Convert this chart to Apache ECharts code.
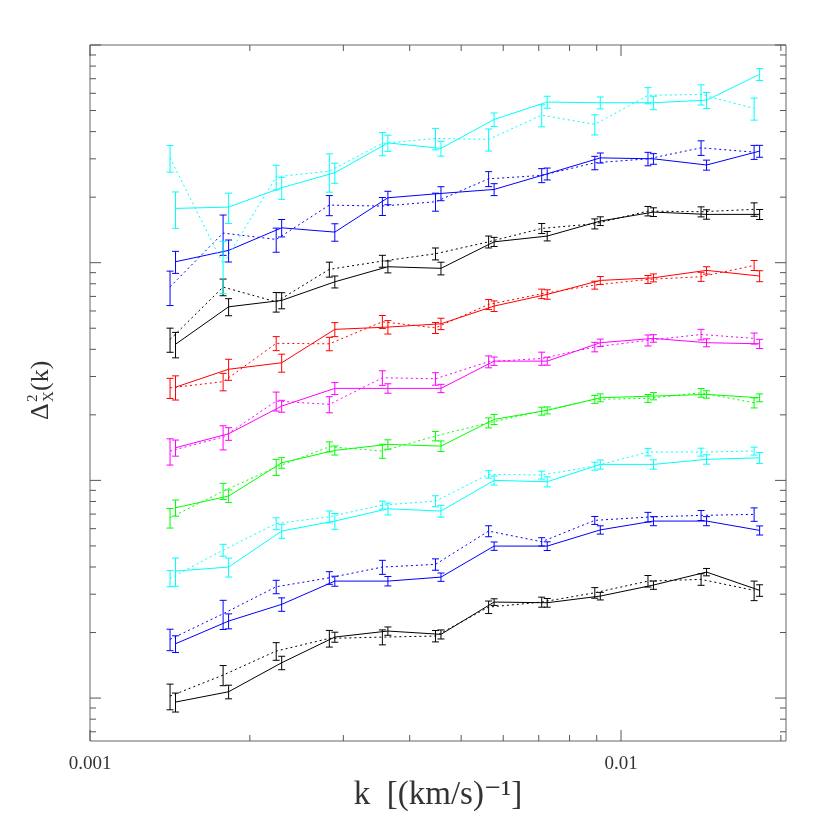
<!DOCTYPE html>
<html>
<head>
<meta charset="utf-8">
<script src="https://cdn.jsdelivr.net/npm/echarts@6/dist/echarts.min.js"></script>
<style>html,body{margin:0;padding:0;background:#fff;}#c{width:830px;height:830px;}</style>
</head>
<body>
<div id="c"></div>
<script>
// k bins (solid sets and slightly shifted dotted sets)
const kSolid  = [0.001449, 0.001824, 0.002296, 0.002891, 0.003639, 0.004581, 0.005768, 0.007261, 0.009141, 0.01151, 0.01449, 0.01824];
const kDotted = [0.001415, 0.001781, 0.002242, 0.002823, 0.003553, 0.004473, 0.005632, 0.007090, 0.008925, 0.01124, 0.01415, 0.01781];

// values (bottom to top) and relative errors
const s1Solid = [0.9585, 1.069, 1.453, 1.906, 2.032, 1.962, 2.761, 2.741, 2.941, 3.304, 3.791, 3.124];
const s1SolidErr = [0.10, 0.072, 0.071, 0.053, 0.044, 0.048, 0.035, 0.046, 0.040, 0.044, 0.039, 0.061];
const s1Dotted = [1.021, 1.275, 1.644, 1.880, 1.906, 1.927, 2.618, 2.761, 3.046, 3.446, 3.510, 3.124];
const s1DottedErr = [0.135, 0.106, 0.093, 0.088, 0.079, 0.060, 0.066, 0.053, 0.056, 0.061, 0.061, 0.103];

const s2Solid = [1.776, 2.258, 2.694, 3.446, 3.446, 3.595, 4.991, 4.991, 5.924, 6.502, 6.502, 5.893];
const s2SolidErr = [0.088, 0.079, 0.071, 0.053, 0.050, 0.044, 0.044, 0.046, 0.044, 0.048, 0.048, 0.048];
const s2Dotted = [1.861, 2.439, 3.245, 3.569, 3.997, 4.113, 5.849, 5.224, 6.551, 6.783, 6.906, 6.980];
const s2DottedErr = [0.113, 0.153, 0.071, 0.067, 0.074, 0.060, 0.058, 0.044, 0.042, 0.051, 0.053, 0.071];

const s3Solid = [3.831, 3.997, 5.849, 6.502, 7.405, 7.228, 10.0, 9.854, 11.84, 11.84, 12.49, 12.70];
const s3SolidErr = [0.148, 0.10, 0.074, 0.083, 0.063, 0.063, 0.048, 0.053, 0.048, 0.050, 0.050, 0.058];
const s3Dotted = [3.547, 4.784, 6.334, 6.805, 7.700, 8.034, 10.66, 10.58, 11.63, 13.49, 13.49, 13.64];
const s3DottedErr = [0.085, 0.063, 0.063, 0.063, 0.042, 0.058, 0.039, 0.042, 0.042, 0.040, 0.042, 0.042];

const s4Solid = [7.483, 8.474, 12.04, 13.73, 14.63, 14.37, 19.06, 20.97, 23.96, 24.39, 24.83, 23.96];
const s4SolidErr = [0.085, 0.067, 0.056, 0.048, 0.050, 0.056, 0.053, 0.037, 0.042, 0.039, 0.039, 0.042];
const s4Dotted = [6.733, 8.929, 11.51, 14.27, 13.64, 15.98, 18.39, 20.81, 23.56, 23.81, 25.26, 22.72];
const s4DottedErr = [0.103, 0.085, 0.085, 0.053, 0.074, 0.050, 0.053, 0.042, 0.042, 0.042, 0.046, 0.053];

const s5Solid = [14.12, 16.37, 21.94, 26.46, 26.46, 26.46, 35.3, 35.3, 42.9, 44.9, 42.9, 42.4];
const s5SolidErr = [0.085, 0.067, 0.063, 0.063, 0.050, 0.044, 0.044, 0.042, 0.039, 0.040, 0.042, 0.048];
const s5Dotted = [13.64, 15.81, 23.13, 22.34, 29.6, 29.3, 35.1, 36.3, 41.0, 44.0, 46.8, 44.9];
const s5DottedErr = [0.138, 0.127, 0.10, 0.085, 0.077, 0.066, 0.063, 0.069, 0.050, 0.058, 0.056, 0.058];

const s6Solid = [26.8, 32.4, 34.7, 49.4, 50.6, 52.4, 63.2, 71.5, 82.9, 85.2, 92.2, 86.8];
const s6SolidErr = [0.127, 0.111, 0.095, 0.074, 0.071, 0.060, 0.056, 0.050, 0.042, 0.042, 0.039, 0.058];
const s6Dotted = [26.6, 28.4, 42.6, 42.4, 53.5, 50.2, 64.3, 72.0, 78.9, 83.8, 86.2, 97.2];
const s6DottedErr = [0.106, 0.092, 0.074, 0.071, 0.069, 0.058, 0.053, 0.050, 0.042, 0.042, 0.048, 0.053];

const s7Solid = [42.2, 62.7, 67.1, 81.7, 95.8, 94.2, 124.7, 132.5, 155.3, 170.8, 166.7, 166.7];
const s7SolidErr = [0.134, 0.090, 0.085, 0.063, 0.063, 0.067, 0.048, 0.050, 0.046, 0.046, 0.050, 0.053];
const s7Dotted = [44.4, 77.3, 66.1, 93.2, 101.7, 109.9, 124.7, 143.7, 150.9, 172.6, 171.4, 175.8];
const s7DottedErr = [0.127, 0.088, 0.103, 0.079, 0.063, 0.063, 0.063, 0.053, 0.053, 0.050, 0.053, 0.071];

const s8Solid = [101.0, 113.9, 144.6, 138.2, 198.7, 208.0, 217.0, 256.0, 303.0, 300.0, 281.0, 325.5];
const s8SolidErr = [0.116, 0.116, 0.092, 0.092, 0.071, 0.074, 0.063, 0.063, 0.053, 0.056, 0.053, 0.063];
const s8Dotted = [77.5, 136.8, 127.9, 183.9, 182.0, 190.5, 242.8, 251.8, 287.6, 300.0, 337.0, 322.0];
const s8DottedErr = [0.18, 0.21, 0.127, 0.106, 0.095, 0.095, 0.079, 0.074, 0.071, 0.071, 0.077, 0.074];

const s9Solid = [177.6, 180.0, 221.0, 259.0, 355.0, 335.0, 455.0, 547.0, 543.0, 543.0, 558.0, 733.0];
const s9SolidErr = [0.19, 0.159, 0.116, 0.106, 0.085, 0.079, 0.071, 0.063, 0.063, 0.071, 0.085, 0.063];
const s9Dotted = [303.0, 98.7, 248.0, 263.5, 353.0, 372.0, 368.5, 476.0, 432.0, 587.0, 593.0, 511.0];
const s9DottedErr = [0.14, 0.27, 0.13, 0.20, 0.122, 0.113, 0.116, 0.116, 0.106, 0.085, 0.106, 0.116];

const seriesColors = ['#000000', '#0000ff', '#00ffff', '#00ff00', '#ff00ff', '#ff0000', '#000000', '#0000ff', '#00ffff'];

// axis ticks
const xLabelTicks = [0.001, 0.01];
const xMajorTicks = [0.001, 0.01];
const xMinorTicks = [0.002, 0.003, 0.004, 0.005, 0.006, 0.007, 0.008, 0.009, 0.02];
const yMajorTicks = [1, 10, 100, 1000];
const yMinorTicks = [0.7, 0.8, 0.9, 2, 3, 4, 5, 6, 7, 8, 9, 20, 30, 40, 50, 60, 70, 80, 90, 200, 300, 400, 500, 600, 700, 800, 900];

const kMin = 0.001, kMax = 0.02045, yMin = 0.635, yMax = 1000;

const sets = [
  [s1Solid, s1SolidErr, s1Dotted, s1DottedErr],
  [s2Solid, s2SolidErr, s2Dotted, s2DottedErr],
  [s3Solid, s3SolidErr, s3Dotted, s3DottedErr],
  [s4Solid, s4SolidErr, s4Dotted, s4DottedErr],
  [s5Solid, s5SolidErr, s5Dotted, s5DottedErr],
  [s6Solid, s6SolidErr, s6Dotted, s6DottedErr],
  [s7Solid, s7SolidErr, s7Dotted, s7DottedErr],
  [s8Solid, s8SolidErr, s8Dotted, s8DottedErr],
  [s9Solid, s9SolidErr, s9Dotted, s9DottedErr]
];

const chart = echarts.init(document.getElementById('c'), null, {renderer: 'canvas'});

function errRender(color) {
  return function (params, api) {
    const k = api.value(0), v = api.value(1), e = api.value(2);
    const hi = api.coord([k, v * (1 + e)]);
    const lo = api.coord([k, v * (1 - e)]);
    const w = 3.5;
    const st = {stroke: color, lineWidth: 1, fill: null};
    return {
      type: 'group',
      children: [
        {type: 'line', shape: {x1: hi[0], y1: hi[1], x2: lo[0], y2: lo[1]}, style: st},
        {type: 'line', shape: {x1: hi[0] - w, y1: hi[1], x2: hi[0] + w, y2: hi[1]}, style: st},
        {type: 'line', shape: {x1: lo[0] - w, y1: lo[1], x2: lo[0] + w, y2: lo[1]}, style: st}
      ]
    };
  };
}

function yTickRender(len) {
  return function (params, api) {
    const cs = params.coordSys;
    const p = api.coord([kMin, api.value(1)]);
    const st = {stroke: '#555', lineWidth: 1};
    return {type: 'group', children: [
      {type: 'line', shape: {x1: cs.x, y1: p[1], x2: cs.x + len, y2: p[1]}, style: st},
      {type: 'line', shape: {x1: cs.x + cs.width, y1: p[1], x2: cs.x + cs.width - len, y2: p[1]}, style: st}
    ]};
  };
}
function xTickRender(len) {
  return function (params, api) {
    const cs = params.coordSys;
    const p = api.coord([api.value(0), yMin]);
    const st = {stroke: '#555', lineWidth: 1};
    return {type: 'group', children: [
      {type: 'line', shape: {x1: p[0], y1: cs.y + cs.height, x2: p[0], y2: cs.y + cs.height - len}, style: st},
      {type: 'line', shape: {x1: p[0], y1: cs.y, x2: p[0], y2: cs.y + len}, style: st}
    ]};
  };
}

const series = [];
sets.forEach((s, i) => {
  const color = seriesColors[i];
  const solid = kSolid.map((k, j) => [k, s[0][j]]);
  const dotted = kDotted.map((k, j) => [k, s[2][j]]);
  series.push({type: 'line', data: dotted, showSymbol: false, symbol: 'none', silent: true,
    lineStyle: {color: color, width: 1, type: [2, 3]}, z: 3});
  series.push({type: 'line', data: solid, showSymbol: false, symbol: 'none', silent: true,
    lineStyle: {color: color, width: 1, type: 'solid'}, z: 3});
  series.push({type: 'custom', renderItem: errRender(color), silent: true, z: 4,
    data: kDotted.map((k, j) => [k, s[2][j], s[3][j]]), encode: {x: 0, y: 1}});
  series.push({type: 'custom', renderItem: errRender(color), silent: true, z: 4,
    data: kSolid.map((k, j) => [k, s[0][j], s[1][j]]), encode: {x: 0, y: 1}});
});
series.push({type: 'custom', renderItem: yTickRender(11), silent: true, data: yMajorTicks.map(v => [kMin, v]), encode: {x: 0, y: 1}, clip: false});
series.push({type: 'custom', renderItem: yTickRender(6), silent: true, data: yMinorTicks.map(v => [kMin, v]), encode: {x: 0, y: 1}, clip: false});
series.push({type: 'custom', renderItem: xTickRender(11), silent: true, data: xMajorTicks.map(v => [v, yMin]), encode: {x: 0, y: 1}, clip: false});
series.push({type: 'custom', renderItem: xTickRender(6), silent: true, data: xMinorTicks.map(v => [v, yMin]), encode: {x: 0, y: 1}, clip: false});

const serif = '"Liberation Serif", "DejaVu Serif", serif';

chart.setOption({
  animation: false,
  backgroundColor: '#fff',
  grid: {left: 90, right: 44, top: 45, bottom: 89, show: true, borderColor: '#666', borderWidth: 1, backgroundColor: 'transparent'},
  xAxis: {
    type: 'log', min: kMin, max: kMax, logBase: 10,
    axisLine: {show: false}, axisTick: {show: false}, splitLine: {show: false},
    axisLabel: {
      show: true, margin: 14, fontFamily: serif, fontSize: 19, color: '#333',
      customValues: xLabelTicks,
      formatter: function (v) { return String(+Number(v).toPrecision(3)); }
    },
    name: 'k  [(km/s)⁻¹]', nameLocation: 'middle', nameGap: 30,
    nameTextStyle: {fontFamily: serif, fontSize: 33, color: '#333', verticalAlign: 'top'}
  },
  yAxis: {
    type: 'log', min: yMin, max: yMax, logBase: 10,
    axisLine: {show: false}, axisTick: {show: false}, splitLine: {show: false}, axisLabel: {show: false}
  },
  graphic: [{
    type: 'group', x: 41, y: 383, rotation: Math.PI / 2,
    children: [
      {type: 'text', x: -37, y: 0, style: {text: 'Δ', font: '26px ' + serif, fill: '#333', verticalAlign: 'middle', align: 'left'}},
      {type: 'text', x: -19, y: -8, style: {text: '2', font: '15px ' + serif, fill: '#333', verticalAlign: 'middle', align: 'left'}},
      {type: 'text', x: -19, y: 8, style: {text: 'X', font: '15px ' + serif, fill: '#333', verticalAlign: 'middle', align: 'left'}},
      {type: 'text', x: -8, y: 0, style: {text: '(k)', font: '26px ' + serif, fill: '#333', verticalAlign: 'middle', align: 'left'}}
    ]
  }],
  series: series
});
</script>
</body>
</html>
